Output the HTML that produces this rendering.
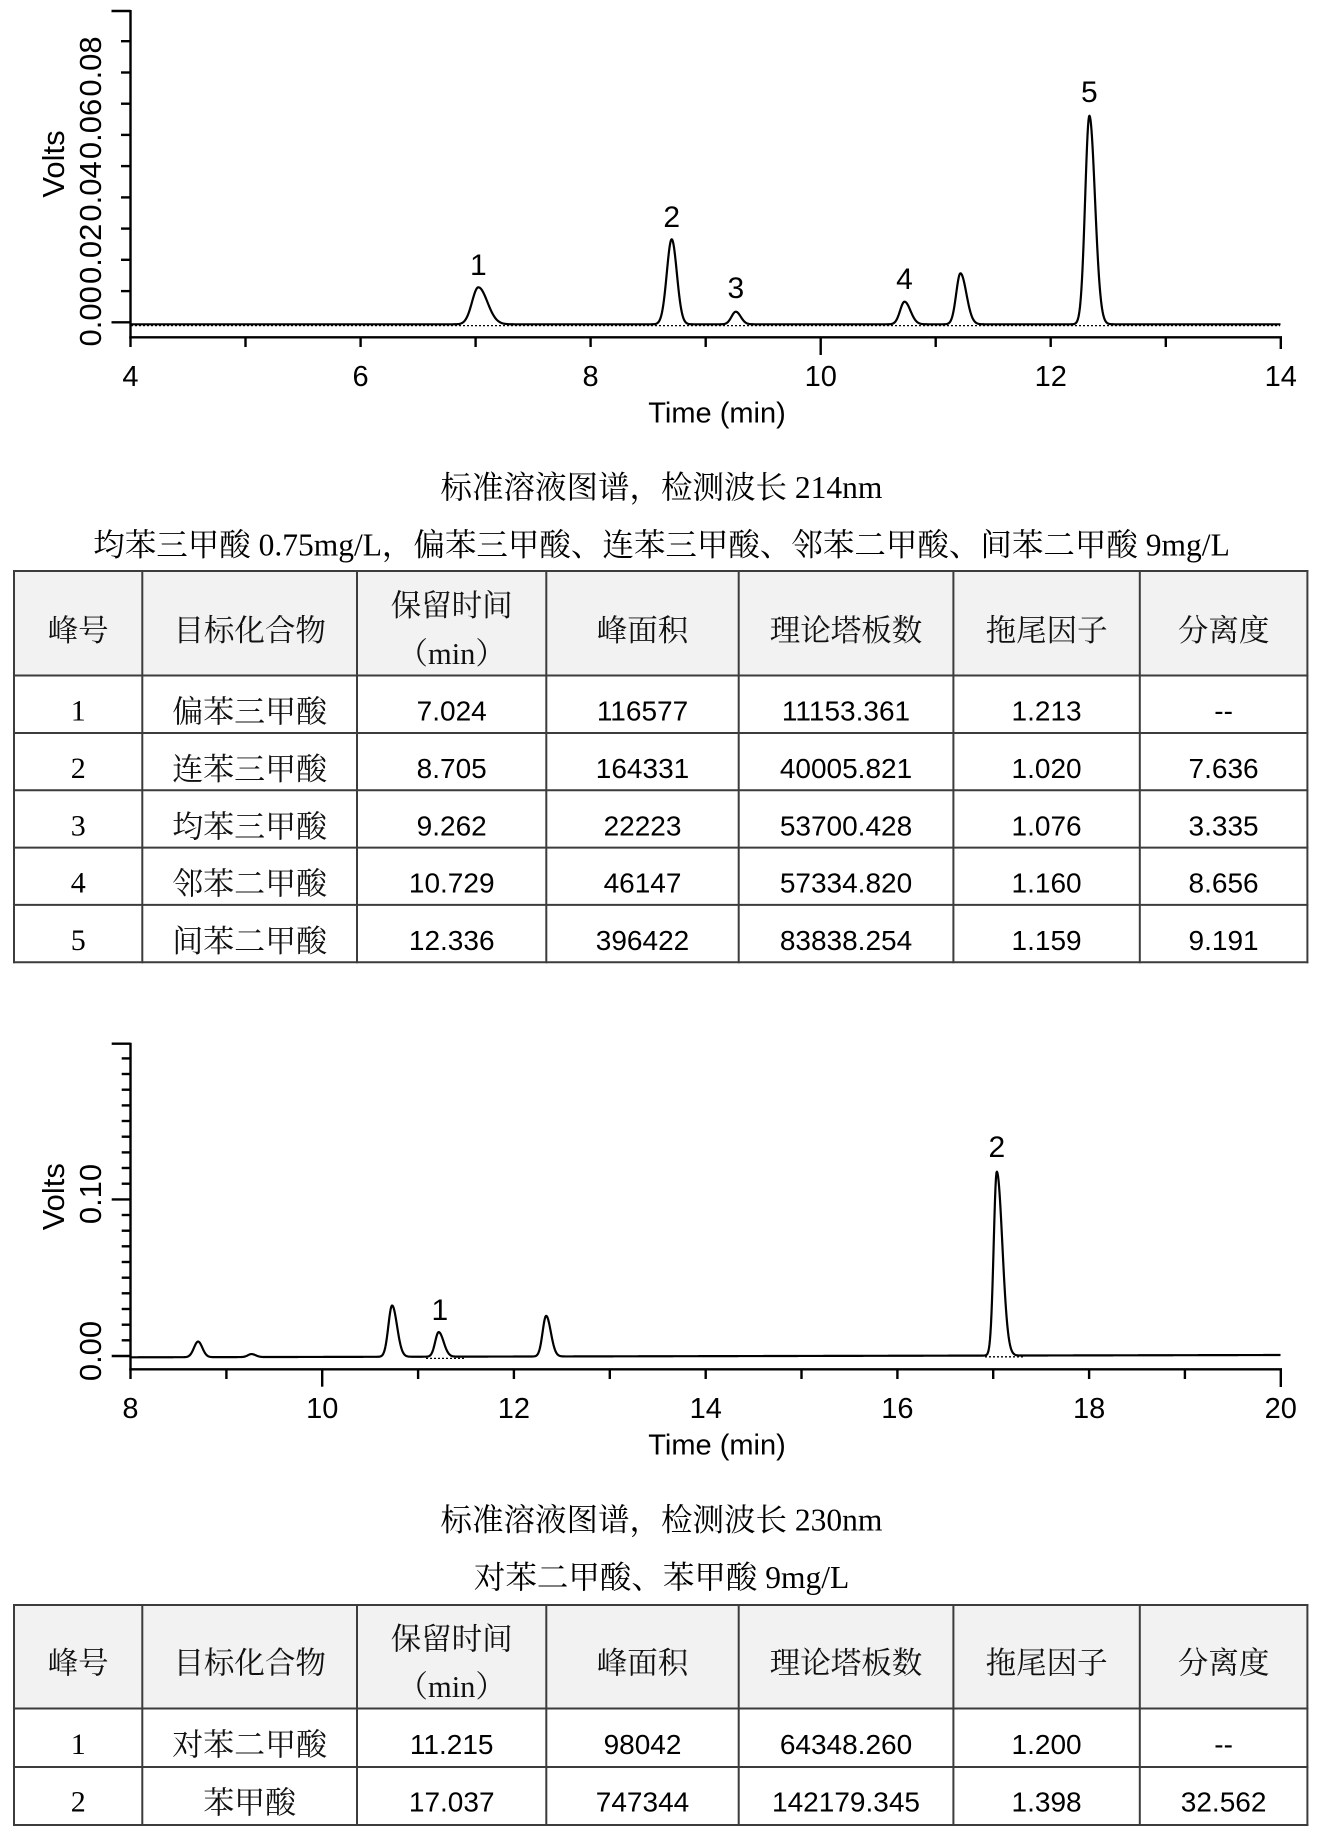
<!DOCTYPE html>
<html>
<head>
<meta charset="utf-8">
<style>
  html, body { margin: 0; padding: 0; background: #fff; }
  body { width: 1320px; height: 1841px; overflow: hidden; }
  svg { display: block; }
  .ax { font-family: "Liberation Sans", Arial, sans-serif; fill: #000; }
  .cap { font-family: "Liberation Serif", "Noto Serif CJK SC", serif; font-size: 31.5px; fill: #000; }
  .cj { font-family: "Liberation Serif", "Noto Serif CJK SC", serif; font-size: 31px; fill: #111; }
  .hd { font-family: "Liberation Serif", "Noto Serif CJK SC", serif; font-size: 30.5px; fill: #111; }
  .num { font-family: "Liberation Sans", Arial, sans-serif; font-size: 28px; fill: #000; }
  .id { font-family: "Liberation Serif", "Times New Roman", serif; font-size: 30px; fill: #000; }
</style>
</head>
<body>
<svg width="1320" height="1841" viewBox="0 0 1320 1841" xmlns="http://www.w3.org/2000/svg">
  <rect x="0" y="0" width="1320" height="1841" fill="#fff"/>

  <!-- ================= CHART 1 ================= -->
  <g stroke="#000" stroke-width="2.4" fill="none" stroke-linecap="butt">
    <line x1="130.5" y1="10" x2="130.5" y2="338.5"/>
    <line x1="129.3" y1="337.3" x2="1282" y2="337.3"/>
    <line x1="111.5" y1="322.3" x2="130.5" y2="322.3"/>
    <line x1="121" y1="291.1" x2="130.5" y2="291.1"/>
    <line x1="121" y1="259.8" x2="130.5" y2="259.8"/>
    <line x1="121" y1="228.6" x2="130.5" y2="228.6"/>
    <line x1="121" y1="197.4" x2="130.5" y2="197.4"/>
    <line x1="121" y1="166.1" x2="130.5" y2="166.1"/>
    <line x1="121" y1="134.9" x2="130.5" y2="134.9"/>
    <line x1="121" y1="103.7" x2="130.5" y2="103.7"/>
    <line x1="121" y1="72.5" x2="130.5" y2="72.5"/>
    <line x1="121" y1="41.2" x2="130.5" y2="41.2"/>
    <line x1="111.5" y1="11" x2="130.5" y2="11"/>
    <line x1="130.5" y1="337.3" x2="130.5" y2="347"/>
    <line x1="245.5" y1="337.3" x2="245.5" y2="347"/>
    <line x1="360.6" y1="337.3" x2="360.6" y2="347"/>
    <line x1="475.6" y1="337.3" x2="475.6" y2="347"/>
    <line x1="590.6" y1="337.3" x2="590.6" y2="347"/>
    <line x1="705.7" y1="337.3" x2="705.7" y2="347"/>
    <line x1="820.7" y1="337.3" x2="820.7" y2="355"/>
    <line x1="935.7" y1="337.3" x2="935.7" y2="347"/>
    <line x1="1050.7" y1="337.3" x2="1050.7" y2="347"/>
    <line x1="1165.8" y1="337.3" x2="1165.8" y2="347"/>
    <line x1="1280.8" y1="337.3" x2="1280.8" y2="349"/>
  </g>
  <line x1="131" y1="325.6" x2="1280" y2="325.6" stroke="#000" stroke-width="1.3" stroke-dasharray="2,2"/>
  <path id="sig1" d="M130.5,324.3 L1280.8,324.3" stroke="#000" stroke-width="2.2" fill="none" stroke-linejoin="round"/>

  <g class="ax" font-size="29" text-anchor="middle">
    <text x="130.5" y="386">4</text>
    <text x="360.6" y="386">6</text>
    <text x="590.6" y="386">8</text>
    <text x="820.7" y="386">10</text>
    <text x="1050.7" y="386">12</text>
    <text x="1280.8" y="386">14</text>
    <text x="717" y="422.5">Time (min)</text>
  </g>
  <g class="ax" font-size="31" text-anchor="middle">
    <text transform="translate(101,316.3) rotate(-90)">0.00</text>
    <text transform="translate(101,253.8) rotate(-90)">0.02</text>
    <text transform="translate(101,191.4) rotate(-90)">0.04</text>
    <text transform="translate(101,128.9) rotate(-90)">0.06</text>
    <text transform="translate(101,66.5) rotate(-90)">0.08</text>
    <text transform="translate(64,164) rotate(-90)">Volts</text>
  </g>
  <g class="ax" font-size="30" text-anchor="middle">
    <text x="478.4" y="275">1</text>
    <text x="671.7" y="227">2</text>
    <text x="735.8" y="298">3</text>
    <text x="904.5" y="289">4</text>
    <text x="1089.4" y="102">5</text>
  </g>

  <!-- captions 1 -->
  <text class="cap" x="661.5" y="498" text-anchor="middle">标准溶液图谱，检测波长 214nm</text>
  <text class="cap" x="661.5" y="555.5" text-anchor="middle">均苯三甲酸 0.75mg/L，偏苯三甲酸、连苯三甲酸、邻苯二甲酸、间苯二甲酸 9mg/L</text>

  <!-- ================= TABLE 1 ================= -->
  <rect x="14" y="571" width="1293.4" height="104.5" fill="#f2f2f2"/>
  <g stroke="#3c3c3c" stroke-width="2" fill="none">
    <line x1="13" y1="571" x2="1308.4" y2="571"/>
    <line x1="13" y1="675.5" x2="1308.4" y2="675.5"/>
    <line x1="13" y1="733" x2="1308.4" y2="733"/>
    <line x1="13" y1="790.3" x2="1308.4" y2="790.3"/>
    <line x1="13" y1="847.6" x2="1308.4" y2="847.6"/>
    <line x1="13" y1="904.9" x2="1308.4" y2="904.9"/>
    <line x1="13" y1="962.2" x2="1308.4" y2="962.2"/>
    <line x1="14" y1="570" x2="14" y2="963.2"/>
    <line x1="142.3" y1="570" x2="142.3" y2="963.2"/>
    <line x1="357" y1="570" x2="357" y2="963.2"/>
    <line x1="546.3" y1="570" x2="546.3" y2="963.2"/>
    <line x1="738.7" y1="570" x2="738.7" y2="963.2"/>
    <line x1="953.4" y1="570" x2="953.4" y2="963.2"/>
    <line x1="1139.8" y1="570" x2="1139.8" y2="963.2"/>
    <line x1="1307.4" y1="570" x2="1307.4" y2="963.2"/>
  </g>
  <g class="hd" text-anchor="middle">
    <text x="78.2" y="641">峰号</text>
    <text x="249.7" y="641">目标化合物</text>
    <text x="451.7" y="616">保留时间</text>
    <text x="451.7" y="664">（min）</text>
    <text x="642.5" y="641">峰面积</text>
    <text x="846" y="641">理论塔板数</text>
    <text x="1046.6" y="641">拖尾因子</text>
    <text x="1223.6" y="641">分离度</text>
  </g>
  <g text-anchor="middle">
    <text class="id" x="78.2" y="720.5">1</text>
    <text class="cj" x="249.7" y="722.5">偏苯三甲酸</text>
    <text class="num" x="451.7" y="720.5">7.024</text>
    <text class="num" x="642.5" y="720.5">116577</text>
    <text class="num" x="846" y="720.5">11153.361</text>
    <text class="num" x="1046.6" y="720.5">1.213</text>
    <text class="num" x="1223.6" y="720.5">--</text>

    <text class="id" x="78.2" y="778">2</text>
    <text class="cj" x="249.7" y="780">连苯三甲酸</text>
    <text class="num" x="451.7" y="778">8.705</text>
    <text class="num" x="642.5" y="778">164331</text>
    <text class="num" x="846" y="778">40005.821</text>
    <text class="num" x="1046.6" y="778">1.020</text>
    <text class="num" x="1223.6" y="778">7.636</text>

    <text class="id" x="78.2" y="835.3">3</text>
    <text class="cj" x="249.7" y="837.3">均苯三甲酸</text>
    <text class="num" x="451.7" y="835.3">9.262</text>
    <text class="num" x="642.5" y="835.3">22223</text>
    <text class="num" x="846" y="835.3">53700.428</text>
    <text class="num" x="1046.6" y="835.3">1.076</text>
    <text class="num" x="1223.6" y="835.3">3.335</text>

    <text class="id" x="78.2" y="892.6">4</text>
    <text class="cj" x="249.7" y="894.6">邻苯二甲酸</text>
    <text class="num" x="451.7" y="892.6">10.729</text>
    <text class="num" x="642.5" y="892.6">46147</text>
    <text class="num" x="846" y="892.6">57334.820</text>
    <text class="num" x="1046.6" y="892.6">1.160</text>
    <text class="num" x="1223.6" y="892.6">8.656</text>

    <text class="id" x="78.2" y="949.9">5</text>
    <text class="cj" x="249.7" y="951.9">间苯二甲酸</text>
    <text class="num" x="451.7" y="949.9">12.336</text>
    <text class="num" x="642.5" y="949.9">396422</text>
    <text class="num" x="846" y="949.9">83838.254</text>
    <text class="num" x="1046.6" y="949.9">1.159</text>
    <text class="num" x="1223.6" y="949.9">9.191</text>
  </g>

  <!-- ================= CHART 2 ================= -->
  <g stroke="#000" stroke-width="2.4" fill="none">
    <line x1="130.5" y1="1042.7" x2="130.5" y2="1370.5"/>
    <line x1="129.3" y1="1369.3" x2="1282" y2="1369.3"/>
    <line x1="111.7" y1="1356" x2="130.5" y2="1356"/>
    <line x1="121.7" y1="1340.3" x2="130.5" y2="1340.3"/>
    <line x1="121.7" y1="1324.7" x2="130.5" y2="1324.7"/>
    <line x1="121.7" y1="1309" x2="130.5" y2="1309"/>
    <line x1="121.7" y1="1293.3" x2="130.5" y2="1293.3"/>
    <line x1="121.7" y1="1277.7" x2="130.5" y2="1277.7"/>
    <line x1="121.7" y1="1262" x2="130.5" y2="1262"/>
    <line x1="121.7" y1="1246.3" x2="130.5" y2="1246.3"/>
    <line x1="121.7" y1="1230.7" x2="130.5" y2="1230.7"/>
    <line x1="121.7" y1="1215" x2="130.5" y2="1215"/>
    <line x1="111.7" y1="1199.4" x2="130.5" y2="1199.4"/>
    <line x1="121.7" y1="1183.7" x2="130.5" y2="1183.7"/>
    <line x1="121.7" y1="1168" x2="130.5" y2="1168"/>
    <line x1="121.7" y1="1152.4" x2="130.5" y2="1152.4"/>
    <line x1="121.7" y1="1136.7" x2="130.5" y2="1136.7"/>
    <line x1="121.7" y1="1121" x2="130.5" y2="1121"/>
    <line x1="121.7" y1="1105.4" x2="130.5" y2="1105.4"/>
    <line x1="121.7" y1="1089.7" x2="130.5" y2="1089.7"/>
    <line x1="121.7" y1="1074" x2="130.5" y2="1074"/>
    <line x1="121.7" y1="1058.4" x2="130.5" y2="1058.4"/>
    <line x1="111.7" y1="1043.7" x2="130.5" y2="1043.7"/>
    <line x1="130.5" y1="1369.3" x2="130.5" y2="1379"/>
    <line x1="226.4" y1="1369.3" x2="226.4" y2="1379"/>
    <line x1="322.2" y1="1369.3" x2="322.2" y2="1386.7"/>
    <line x1="418.1" y1="1369.3" x2="418.1" y2="1379"/>
    <line x1="513.9" y1="1369.3" x2="513.9" y2="1379"/>
    <line x1="609.8" y1="1369.3" x2="609.8" y2="1379"/>
    <line x1="705.7" y1="1369.3" x2="705.7" y2="1379"/>
    <line x1="801.5" y1="1369.3" x2="801.5" y2="1379"/>
    <line x1="897.4" y1="1369.3" x2="897.4" y2="1379"/>
    <line x1="993.2" y1="1369.3" x2="993.2" y2="1379"/>
    <line x1="1089.1" y1="1369.3" x2="1089.1" y2="1379"/>
    <line x1="1184.9" y1="1369.3" x2="1184.9" y2="1379"/>
    <line x1="1280.8" y1="1369.3" x2="1280.8" y2="1387"/>
  </g>
  <line x1="426" y1="1358.4" x2="464" y2="1358.4" stroke="#000" stroke-width="1.3" stroke-dasharray="2,2"/>
  <line x1="985" y1="1356.8" x2="1024" y2="1356.8" stroke="#000" stroke-width="1.3" stroke-dasharray="2,2"/>
  <path id="sig2" d="M130.5,1357.3 L1280.8,1355" stroke="#000" stroke-width="2.2" fill="none" stroke-linejoin="round"/>

  <g class="ax" font-size="29" text-anchor="middle">
    <text x="130.5" y="1418">8</text>
    <text x="322.2" y="1418">10</text>
    <text x="513.9" y="1418">12</text>
    <text x="705.7" y="1418">14</text>
    <text x="897.4" y="1418">16</text>
    <text x="1089.1" y="1418">18</text>
    <text x="1280.8" y="1418">20</text>
    <text x="717" y="1454.5">Time (min)</text>
  </g>
  <g class="ax" font-size="31" text-anchor="middle">
    <text transform="translate(101,1351) rotate(-90)">0.00</text>
    <text transform="translate(101,1194) rotate(-90)">0.10</text>
    <text transform="translate(64,1196.7) rotate(-90)">Volts</text>
  </g>
  <g class="ax" font-size="30" text-anchor="middle">
    <text x="439.8" y="1320">1</text>
    <text x="996.8" y="1157">2</text>
  </g>

  <!-- captions 2 -->
  <text class="cap" x="661.5" y="1530.5" text-anchor="middle">标准溶液图谱，检测波长 230nm</text>
  <text class="cap" x="661.5" y="1588" text-anchor="middle">对苯二甲酸、苯甲酸 9mg/L</text>

  <!-- ================= TABLE 2 ================= -->
  <rect x="14" y="1605" width="1293.4" height="103.5" fill="#f2f2f2"/>
  <g stroke="#3c3c3c" stroke-width="2" fill="none">
    <line x1="13" y1="1605" x2="1308.4" y2="1605"/>
    <line x1="13" y1="1708.5" x2="1308.4" y2="1708.5"/>
    <line x1="13" y1="1767" x2="1308.4" y2="1767"/>
    <line x1="13" y1="1825" x2="1308.4" y2="1825"/>
    <line x1="14" y1="1604" x2="14" y2="1826"/>
    <line x1="142.3" y1="1604" x2="142.3" y2="1826"/>
    <line x1="357" y1="1604" x2="357" y2="1826"/>
    <line x1="546.3" y1="1604" x2="546.3" y2="1826"/>
    <line x1="738.7" y1="1604" x2="738.7" y2="1826"/>
    <line x1="953.4" y1="1604" x2="953.4" y2="1826"/>
    <line x1="1139.8" y1="1604" x2="1139.8" y2="1826"/>
    <line x1="1307.4" y1="1604" x2="1307.4" y2="1826"/>
  </g>
  <g class="hd" text-anchor="middle">
    <text x="78.2" y="1673.5">峰号</text>
    <text x="249.7" y="1673.5">目标化合物</text>
    <text x="451.7" y="1649.5">保留时间</text>
    <text x="451.7" y="1697">（min）</text>
    <text x="642.5" y="1673.5">峰面积</text>
    <text x="846" y="1673.5">理论塔板数</text>
    <text x="1046.6" y="1673.5">拖尾因子</text>
    <text x="1223.6" y="1673.5">分离度</text>
  </g>
  <g text-anchor="middle">
    <text class="id" x="78.2" y="1753.8">1</text>
    <text class="cj" x="249.7" y="1755.5">对苯二甲酸</text>
    <text class="num" x="451.7" y="1753.8">11.215</text>
    <text class="num" x="642.5" y="1753.8">98042</text>
    <text class="num" x="846" y="1753.8">64348.260</text>
    <text class="num" x="1046.6" y="1753.8">1.200</text>
    <text class="num" x="1223.6" y="1753.8">--</text>

    <text class="id" x="78.2" y="1811.5">2</text>
    <text class="cj" x="249.7" y="1813.3">苯甲酸</text>
    <text class="num" x="451.7" y="1811.5">17.037</text>
    <text class="num" x="642.5" y="1811.5">747344</text>
    <text class="num" x="846" y="1811.5">142179.345</text>
    <text class="num" x="1046.6" y="1811.5">1.398</text>
    <text class="num" x="1223.6" y="1811.5">32.562</text>
  </g>
</svg>
<script>
(function(){
  function build(id, x0, ppm, t0, t1, baseFn, peaks){
    var pk = peaks.map(function(p){
      var r = 2*p[3]-1, s = p[2]*ppm;
      return {x: x0+(p[0]-t0)*ppm, h: p[1], sl: 2*s/(1+r), sr: 2*s*r/(1+r)};
    });
    var xEnd = x0 + (t1-t0)*ppm, d = '';
    for (var x = x0; x <= xEnd + 0.01; x += 0.5){
      var y = baseFn(x);
      for (var i = 0; i < pk.length; i++){
        var q = pk[i], dd = x - q.x, s = dd < 0 ? q.sl : q.sr, z = dd/s;
        if (z*z < 80) y -= q.h*Math.exp(-0.5*z*z);
      }
      d += (d ? 'L' : 'M') + x.toFixed(2) + ',' + y.toFixed(2);
    }
    document.getElementById(id).setAttribute('d', d);
  }
  build('sig1', 130.5, 115.03, 4, 14, function(x){ return 324.3; }, [
    [7.024, 37, 0.0665, 1.213],
    [8.705, 85, 0.0435, 1.02],
    [9.262, 12.6, 0.040, 1.076],
    [10.729, 22.6, 0.045, 1.16],
    [11.215, 51, 0.044, 1.2],
    [12.336, 208.6, 0.0426, 1.159]
  ]);
  build('sig2', 130.5, 95.86, 8, 20, function(x){ return 1357.3 - (x-130.5)/1150.3*2.3; }, [
    [8.705, 15.6, 0.0435, 1.02],
    [9.262, 3, 0.040, 1.076],
    [10.729, 51.3, 0.045, 1.16],
    [11.215, 24.6, 0.044, 1.2],
    [12.336, 40.6, 0.0426, 1.159],
    [17.037, 184, 0.045, 1.398]
  ]);
})();
</script>
</body>
</html>
